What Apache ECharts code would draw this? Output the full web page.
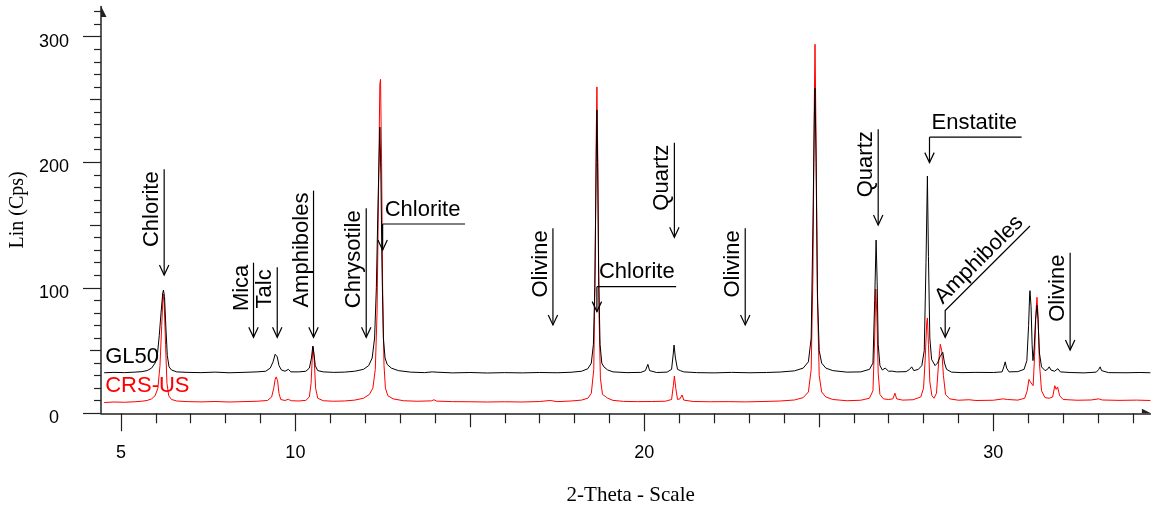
<!DOCTYPE html>
<html>
<head>
<meta charset="utf-8">
<script src="https://cdn.jsdelivr.net/npm/echarts@6/dist/echarts.min.js"></script>
<style>html,body{margin:0;padding:0;background:#fff}#c{width:1153px;height:508px}</style>
</head>
<body>
<div id="c"></div>
<script>
// ---------------- data (2-Theta, Lin(Cps)) ----------------
const crsUS = [[4.52,8.6],[4.8,9.0],[5.1,8.8],[5.4,9.2],[5.6,9.6],[5.75,10.2],[5.88,11.5],[5.98,14],[6.06,20],[6.12,38],[6.17,70],[6.21,95],[6.24,88],[6.28,55],[6.32,24],[6.37,14],[6.45,11],[6.6,9.8],[6.9,9.3],[7.3,9.1],[7.7,9.4],[8.1,9.0],[8.5,9.3],[8.9,9.6],[9.2,10.2],[9.32,13],[9.38,20],[9.42,27],[9.45,29],[9.49,26],[9.53,16],[9.58,11],[9.7,10.2],[9.8,11.2],[9.88,10],[10.1,9.8],[10.3,10.3],[10.4,13],[10.45,24],[10.49,48],[10.51,53],[10.54,42],[10.58,20],[10.64,12],[10.8,10],[11.1,9.6],[11.4,9.8],[11.7,10.5],[11.95,12],[12.12,15],[12.22,20],[12.29,35],[12.34,80],[12.38,170],[12.42,262],[12.44,266],[12.47,200],[12.5,100],[12.54,38],[12.58,20],[12.65,14],[12.8,11.5],[13.1,10],[13.5,9.6],[13.9,9.9],[13.97,10.8],[14.05,9.7],[14.5,9.3],[15.0,9.2],[15.5,9.0],[16.0,9.2],[16.5,9.0],[17.0,9.4],[17.3,10.2],[17.5,9.3],[17.9,9.8],[18.2,10.5],[18.38,12],[18.48,16],[18.55,35],[18.59,120],[18.62,220],[18.64,260],[18.67,190],[18.7,80],[18.74,28],[18.8,15],[18.88,13.5],[18.95,12],[19.1,10.3],[19.4,9.5],[19.8,9.3],[20.2,9.4],[20.6,9.6],[20.78,11],[20.83,22],[20.86,29.7],[20.9,20],[20.95,11],[21.02,11.5],[21.08,14.6],[21.13,10.5],[21.4,9.4],[21.9,9.2],[22.4,9.3],[22.9,9.1],[23.4,9.4],[23.9,9.8],[24.3,10.6],[24.55,12.5],[24.7,17],[24.78,35],[24.83,110],[24.87,250],[24.89,294],[24.92,220],[24.96,90],[25.01,30],[25.08,17],[25.2,13],[25.4,11],[25.8,10],[26.2,10.4],[26.45,12],[26.55,18],[26.6,60],[26.63,99],[26.66,80],[26.7,32],[26.75,15],[26.85,11.5],[27.0,11],[27.12,11.5],[27.18,16],[27.23,11.5],[27.4,10.5],[27.7,10.8],[27.92,13],[28.0,20],[28.05,45],[28.09,72],[28.11,76],[28.14,55],[28.18,25],[28.24,14],[28.3,12],[28.37,16],[28.43,40],[28.48,55],[28.52,50],[28.57,30],[28.63,15],[28.75,11.5],[29.0,10.4],[29.3,10.8],[29.5,10.2],[30.0,10.4],[30.28,11.5],[30.33,13],[30.4,11],[30.7,10.5],[30.9,12],[30.97,18],[31.02,27],[31.06,25],[31.1,26.5],[31.14,22],[31.18,45],[31.22,80],[31.25,92.4],[31.28,78],[31.32,40],[31.38,18],[31.48,12.5],[31.6,12],[31.7,13],[31.76,22],[31.8,19],[31.84,21],[31.9,14],[32.0,11],[32.4,10.4],[32.8,10.6],[33.02,11.5],[33.06,12.3],[33.12,10.6],[33.6,10.3],[34.1,10.5],[34.5,10.2]];

const gl50 = [[4.52,32.3],[4.8,32.6],[5.1,32.4],[5.4,32.8],[5.6,33.2],[5.75,34],[5.88,36],[5.98,40],[6.05,48],[6.1,62],[6.15,80],[6.2,96],[6.22,98.2],[6.25,93],[6.29,68],[6.33,46],[6.38,37],[6.45,34.5],[6.6,33],[6.9,32.6],[7.3,32.4],[7.7,32.8],[8.1,32.3],[8.5,32.6],[8.9,33],[9.15,33.5],[9.28,36],[9.36,41],[9.42,47],[9.44,48.3],[9.48,45],[9.53,38],[9.6,34.5],[9.7,33.5],[9.8,35],[9.87,33],[10.1,33],[10.3,33.5],[10.4,36],[10.46,44],[10.5,53.6],[10.53,48],[10.57,38],[10.64,34],[10.8,33],[11.1,32.6],[11.4,32.8],[11.7,33.5],[11.95,35],[12.1,38],[12.2,44],[12.27,60],[12.32,100],[12.37,170],[12.42,228],[12.45,190],[12.48,120],[12.52,60],[12.57,44],[12.63,39],[12.75,36],[12.95,34],[13.3,32.8],[13.7,32.4],[13.92,33],[13.97,34.5],[14.03,32.8],[14.5,32.2],[15.0,32.5],[15.5,32.1],[16.0,32.4],[16.5,32.2],[17.0,32.5],[17.5,32.3],[17.9,32.7],[18.2,33.5],[18.38,35.5],[18.48,40],[18.54,55],[18.58,100],[18.62,200],[18.64,241.7],[18.66,200],[18.69,110],[18.73,55],[18.78,40],[18.84,37],[18.88,37],[18.95,34.5],[19.1,33],[19.5,32.4],[19.9,32.6],[20.03,34],[20.1,39],[20.15,34],[20.35,32.5],[20.65,32.8],[20.78,35],[20.83,48],[20.85,54.4],[20.89,44],[20.95,35],[21.03,34],[21.08,35.5],[21.13,33],[21.5,32.4],[22.0,32.2],[22.5,32.6],[23.0,32.3],[23.5,32.5],[23.9,32.9],[24.3,33.8],[24.55,36],[24.7,41],[24.78,60],[24.83,150],[24.87,235],[24.89,259],[24.92,200],[24.96,95],[25.01,50],[25.08,40],[25.2,36],[25.4,34],[25.8,32.8],[26.2,33],[26.45,35],[26.55,40],[26.6,90],[26.64,138],[26.67,105],[26.7,55],[26.75,38],[26.82,34.5],[26.9,36],[26.94,36.6],[27.0,33.5],[27.1,33.6],[27.15,34.5],[27.22,33],[27.5,33.2],[27.6,35],[27.66,37],[27.72,34],[27.85,35],[27.95,38],[28.02,50],[28.07,120],[28.11,189],[28.14,125],[28.18,60],[28.23,43],[28.27,41],[28.33,38],[28.4,40],[28.47,45],[28.5,44],[28.55,48.6],[28.6,40],[28.66,35],[28.8,32.8],[29.1,32.4],[29.5,32.6],[30.0,32.5],[30.25,33],[30.3,37],[30.34,41],[30.38,36],[30.45,33],[30.7,33.2],[30.88,35],[30.96,42],[31.01,70],[31.04,95],[31.05,97.7],[31.08,85],[31.11,55],[31.135,42],[31.17,52],[31.21,75],[31.25,86],[31.28,75],[31.32,48],[31.38,37],[31.48,34],[31.55,35],[31.6,37],[31.65,34.5],[31.75,33.5],[31.85,35.5],[31.92,33],[32.2,32.5],[32.6,32.2],[32.95,32.8],[33.02,35],[33.06,37],[33.1,34],[33.3,32.4],[33.8,32.3],[34.2,32.5],[34.5,32.3]];

// series names and their in-plot label anchors (data coords)
const traceNames = ['GL50', 'CRS-US'];
const traceNameX = [4.55, 4.55];
const traceNameY = [36.5, 12.8];

// axis ranges and ticks
const xMin = 4.43, xMax = 34.5;
const yMin = 0, yMax = 324;
const xLabelTicks = [5, 10, 20, 30];
const xMidTicks = [15, 25];
const yLabelTicks = [0, 100, 200, 300];
const yMidTicks = [50, 150, 250];

// phase annotations: vertical arrow labels
const vertNotes   = ['Chlorite','Mica','Talc','Amphiboles','Chrysotile','Olivine','Quartz','Olivine','Quartz','Olivine'];
const vertNoteX   = [6.24, 8.8, 9.48, 10.52, 12.03, 17.38, 20.86, 22.89, 26.7, 32.2];
const vertNoteTop = [194.4, 120, 116.3, 177.4, 163.3, 147.4, 215.6, 147.4, 226.3, 128];
const vertNoteTip = [110.2, 60.5, 60.5, 60.5, 60.5, 70.4, 140.2, 70.4, 150, 50.4];

// flag-style labels (horizontal text on an underline, then drop arrow)
const flagNotes = ['Chlorite', 'Chlorite', 'Enstatite'];
const flagX     = [12.5, 18.64, 28.17];
const flagXEnd  = [14.86, 20.91, 30.81];
const flagY     = [150.8, 100.9, 220];
const flagTip   = [130, 81, 199.7];

// diagonal label
const diagNotes = ['Amphiboles'];
const diagFarX  = [31.05], diagFarY  = [149.2];
const diagKneeX = [28.62], diagKneeY = [81.8];
const diagTipY  = [60.5];

// ---------------- chart ----------------
const FONT = '"Liberation Sans", Arial, Helvetica, sans-serif';
const SERIF = '"Liberation Serif", "Times New Roman", serif';
const noteFont = '22px ' + FONT;

const xMinorTicks = [];
for (let v = Math.ceil(xMin); v <= xMax; v++) if (v % 5 !== 0) xMinorTicks.push(v);
const yMinorTicks = [];
for (let v = 10; v <= yMax; v += 10) if (v % 50 !== 0) yMinorTicks.push(v);

function arrowHead(px, py) {
  return { type: 'polyline', shape: { points: [[px - 4.7, py - 10], [px, py], [px + 4.7, py - 10]] },
           style: { stroke: '#000', lineWidth: 1.2, fill: null } };
}

function baseX(extra) {
  return Object.assign({
    type: 'value', min: xMin, max: xMax, position: 'bottom', gridIndex: 0,
    axisLine: { show: false }, splitLine: { show: false }, axisLabel: { show: false }
  }, extra);
}
function baseY(extra) {
  return Object.assign({
    type: 'value', min: yMin, max: yMax, position: 'left', gridIndex: 0,
    axisLine: { show: false }, splitLine: { show: false }, axisLabel: { show: false }
  }, extra);
}

const axisLineStyle = { color: '#222', width: 1.5 };

const option = {
  animation: false,
  backgroundColor: '#fff',
  grid: { left: 101, top: 6.6, right: 2.6, bottom: 94.7, outerBoundsMode: 'none' },
  xAxis: [
    baseX({
      axisLine: { show: true, lineStyle: axisLineStyle,
        symbol: ['none', 'path://M5,0 L5,10 L0,10 Z M10,10 L10,10'], symbolSize: [9, 9], symbolOffset: [0, -4] },
      axisTick: { show: true, customValues: xLabelTicks, length: 18, lineStyle: { color: '#222', width: 1.2 } },
      axisLabel: { show: true, customValues: xLabelTicks, margin: 31, color: '#000', fontSize: 18, fontFamily: FONT },
      name: '2-Theta - Scale', nameLocation: 'middle', nameGap: 72,
      nameTextStyle: { fontFamily: SERIF, fontSize: 21, color: '#000', padding: [0, 0, 0, 10] }
    }),
    baseX({ axisTick: { show: true, customValues: xMidTicks, length: 14, lineStyle: { color: '#222', width: 1.2 } } }),
    baseX({ axisTick: { show: true, customValues: xMinorTicks, length: 10, lineStyle: { color: '#222', width: 1.2 } } })
  ],
  yAxis: [
    baseY({
      axisLine: { show: true, lineStyle: axisLineStyle,
        symbol: ['none', 'path://M5,0 L5,10 L10,10 Z M0,10 L0,10'], symbolSize: [12, 11], symbolOffset: [0, -5] },
      axisTick: { show: true, customValues: yLabelTicks, length: 18, lineStyle: { color: '#222', width: 1.2 } },
      axisLabel: { show: true, customValues: yLabelTicks, margin: 47, align: 'center', verticalAlign: 'top', lineHeight: 10,
        color: '#000', fontSize: 18, fontFamily: FONT },
      name: 'Lin (Cps)', nameLocation: 'middle', nameGap: 70,
      nameTextStyle: { fontFamily: SERIF, fontSize: 20, color: '#000' }
    }),
    baseY({ axisTick: { show: true, customValues: yMidTicks, length: 11, lineStyle: { color: '#222', width: 1.2 } } }),
    baseY({ axisTick: { show: true, customValues: yMinorTicks, length: 7, lineStyle: { color: '#222', width: 1.2 } } })
  ],
  series: [
    { name: 'CRS-US', type: 'line', data: crsUS, showSymbol: false, symbol: 'none', smooth: false,
      lineStyle: { color: '#ff0000', width: 1 }, itemStyle: { color: '#ff0000' }, z: 2, silent: true },
    { name: 'GL50', type: 'line', data: gl50, showSymbol: false, symbol: 'none', smooth: false,
      lineStyle: { color: '#000', width: 1 }, itemStyle: { color: '#000' }, z: 3, silent: true },
    // series name labels
    { type: 'custom', silent: true, z: 5, data: traceNameX.map((x, i) => [x, traceNameY[i]]),
      renderItem(params, api) {
        const i = params.dataIndex;
        const p = api.coord([traceNameX[i], traceNameY[i]]);
        return { type: 'text', x: p[0], y: p[1],
          style: { text: traceNames[i], font: '22px ' + FONT, fill: i === 0 ? '#000' : '#ff0000', align: 'left', verticalAlign: 'bottom' } };
      } },
    // vertical arrow notes
    { type: 'custom', silent: true, z: 6, data: vertNoteX.map((x, i) => [x, vertNoteTop[i]]),
      renderItem(params, api) {
        const i = params.dataIndex;
        const top = api.coord([vertNoteX[i], vertNoteTop[i]]);
        const tip = api.coord([vertNoteX[i], vertNoteTip[i]]);
        return { type: 'group', children: [
          { type: 'line', shape: { x1: top[0], y1: top[1], x2: tip[0], y2: tip[1] }, style: { stroke: '#000', lineWidth: 1.2 } },
          arrowHead(tip[0], tip[1]),
          { type: 'text', x: top[0] - 1, y: top[1] + 2, rotation: Math.PI / 2,
            style: { text: vertNotes[i], font: noteFont, fill: '#000', align: 'right', verticalAlign: 'bottom' } }
        ] };
      } },
    // flag notes
    { type: 'custom', silent: true, z: 6, data: flagX.map((x, i) => [x, flagY[i]]),
      renderItem(params, api) {
        const i = params.dataIndex;
        const a = api.coord([flagX[i], flagY[i]]);
        const b = api.coord([flagXEnd[i], flagY[i]]);
        const t = api.coord([flagX[i], flagTip[i]]);
        return { type: 'group', children: [
          { type: 'line', shape: { x1: a[0], y1: a[1], x2: b[0], y2: b[1] }, style: { stroke: '#000', lineWidth: 1.2 } },
          { type: 'line', shape: { x1: a[0], y1: a[1], x2: t[0], y2: t[1] }, style: { stroke: '#000', lineWidth: 1.2 } },
          arrowHead(t[0], t[1]),
          { type: 'text', x: a[0] + 2, y: a[1] - 3.5,
            style: { text: flagNotes[i], font: noteFont, fill: '#000', align: 'left', verticalAlign: 'bottom' } }
        ] };
      } },
    // diagonal note
    { type: 'custom', silent: true, z: 6, data: diagKneeX.map((x, i) => [x, diagKneeY[i]]),
      renderItem(params, api) {
        const i = params.dataIndex;
        const f = api.coord([diagFarX[i], diagFarY[i]]);
        const k = api.coord([diagKneeX[i], diagKneeY[i]]);
        const t = api.coord([diagKneeX[i], diagTipY[i]]);
        const ang = Math.atan2(k[1] - f[1], f[0] - k[0]);
        const mx = (f[0] + k[0]) / 2, my = (f[1] + k[1]) / 2;
        return { type: 'group', children: [
          { type: 'polyline', shape: { points: [f, k, t] }, style: { stroke: '#000', lineWidth: 1.2, fill: null } },
          arrowHead(t[0], t[1]),
          { type: 'text', x: mx, y: my, rotation: ang,
            style: { text: diagNotes[i], font: noteFont, fill: '#000', align: 'center', verticalAlign: 'bottom', x: 0, y: -1 } }
        ] };
      } }
  ]
};

const chart = echarts.init(document.getElementById('c'), null, { renderer: 'canvas' });
chart.setOption(option);
</script>
</body>
</html>
